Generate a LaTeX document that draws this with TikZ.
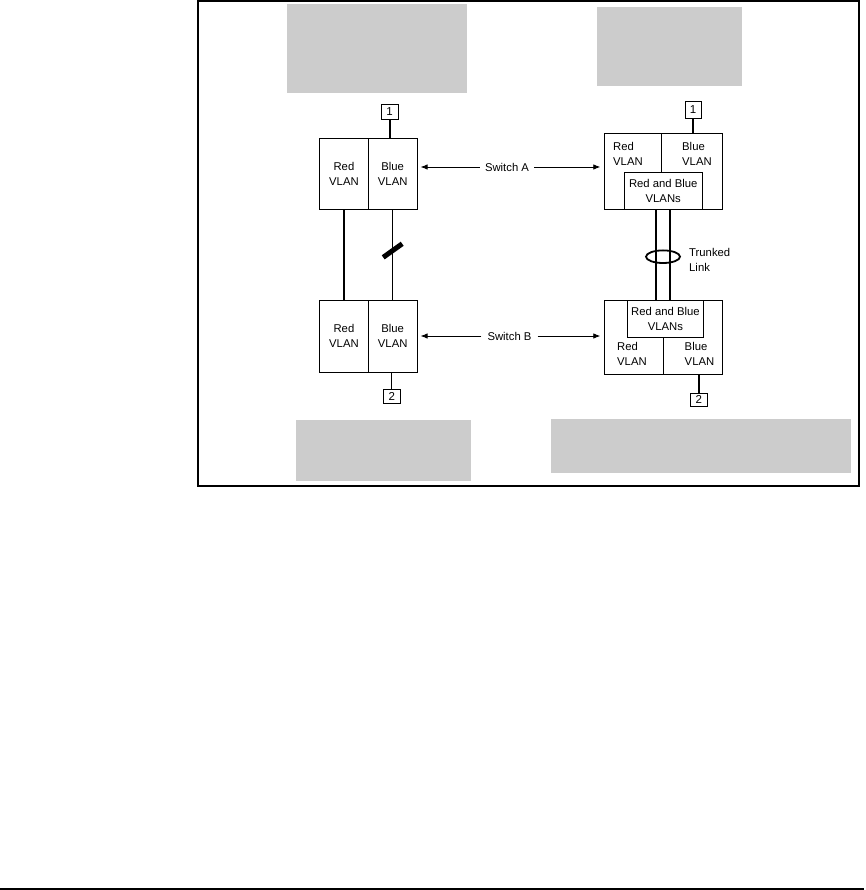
\documentclass[tikz,border=0pt]{standalone}
\usepackage{fontspec}
\setmainfont{Liberation Sans}
\usetikzlibrary{arrows.meta,calc,shapes.geometric}
\definecolor{panel}{HTML}{CCCCCC}
\begin{document}
\begin{tikzpicture}[x=1pt,y=-1pt,
  txt/.style={font=\fontsize{11.3}{15}\selectfont, inner sep=0pt},
  half/.style={draw, line width=0.8pt, inner sep=0pt, anchor=north west, align=center, font=\fontsize{11.3}{15}\selectfont},
  port/.style={draw, line width=0.8pt, inner sep=0pt, minimum width=17pt, minimum height=15pt, font=\fontsize{11.5}{13}\selectfont},
  thin/.style={line width=0.8pt},
  thick2/.style={line width=2pt},
  trunk/.style={line width=1.5pt},
  arr/.style={line width=0.8pt, -{Latex[length=7pt,width=5.5pt]}},
  gray/.style={fill=panel, draw=none}
]
\useasboundingbox (0,0) rectangle (865,890);
% frame and bottom rule
\draw[line width=2pt] (198,1) rectangle (859,486);
\draw[line width=2pt] (0,888.5) -- (864,888.5);
% gray panels
\fill[panel] (287,4) rectangle (467,93);
\fill[panel] (597,7) rectangle (742,86);
\fill[panel] (296,420) rectangle (471,481);
\fill[panel] (551,419) rectangle (851,473);

% ---- left: untagged VLANs ----
\node[half, minimum width=48.5pt, minimum height=71pt] (redA) at (319.3,138.3) {Red\\VLAN};
\node[half, minimum width=49pt, minimum height=71pt] (blueA) at (367.8,138.3) {Blue\\VLAN};
\node[half, minimum width=48.5pt, minimum height=71.7pt] (redB) at (319.3,300) {Red\\VLAN};
\node[half, minimum width=49pt, minimum height=71.7pt] (blueB) at (367.8,300) {Blue\\VLAN};
\node[port] (p1a) at (389.5,111.8) {1};
\node[port, minimum height=14pt] (p2a) at (391.7,396.3) {2};
\draw[thick2] (p1a.south) -- (p1a.south |- blueA.north);
\draw[thick2] (redA.south) -- (redB.north);
\draw[thin] (blueA.south) -- (blueB.north);
\coordinate (blk) at ($(blueA.south)!0.45!(blueB.north)$);
\draw[line width=5pt] ($(blk)+(-9.5,6.8)$) -- ($(blk)+(9.5,-6.8)$);
\draw[thin] (p2a.north |- blueB.south) -- (p2a.north);

% ---- right: tagged trunk ----
\node[draw, line width=0.8pt, inner sep=0pt, anchor=north west, minimum width=117.4pt, minimum height=76pt] (swA2) at (604.3,133.3) {};
\node[half, minimum width=77.7pt, minimum height=37pt] (inA) at (624,172.3) {Red and Blue\\VLANs};
\draw[thin] (661.7,133.3) -- (661.7,172.3);
\node[txt, align=left, anchor=west] (redA2) at (613,153.7) {Red\\VLAN};
\node[txt, align=left, anchor=west] (blueA2) at (682,153.7) {Blue\\VLAN};
\node[port, minimum width=16pt, minimum height=16.6pt] (p1b) at (693,110) {1};
\draw[thick2] (p1b.south) -- (p1b.south |- swA2.north);

\node[draw, line width=0.8pt, inner sep=0pt, anchor=north west, minimum width=117.4pt, minimum height=74.3pt] (swB2) at (604.3,300) {};
\node[half, minimum width=76.6pt, minimum height=37.3pt] (inB) at (626.7,300) {Red and Blue\\VLANs};
\draw[thin] (663.3,337.3) -- (663.3,374.3);
\node[txt, align=left, anchor=west] (redB2) at (617,353.5) {Red\\VLAN};
\node[txt, align=left, anchor=west] (blueB2) at (684.5,353.5) {Blue\\VLAN};
\node[port, minimum height=12.7pt] (p2b) at (698.7,399.7) {2};
\draw[thick2] (p2b.north |- swB2.south) -- (p2b.north);

% trunk
\coordinate (tA1) at (656,209.3);
\coordinate (tA2) at (670,209.3);
\draw[trunk] (tA1) -- (tA1 |- inB.north);
\draw[trunk] (tA2) -- (tA2 |- inB.north);
\node[draw, ellipse, line width=1.8pt, inner sep=0pt, minimum width=34pt, minimum height=12.6pt] (ring) at (663,256.7) {};
\node[txt, align=left, anchor=west] (trk) at (689,259.7) {Trunked\\Link};

% switch labels
\node[txt] (labA) at (507,167) {Switch A};
\node[txt] (labB) at (509.5,336) {Switch B};
\draw[arr, shorten >=3pt] ([xshift=-5pt]labA.west) -- (blueA.east |- labA.west);
\draw[arr, shorten >=4pt] ([xshift=5pt]labA.east) -- (swA2.west |- labA.east);
\draw[arr, shorten >=3pt] ([xshift=-6pt]labB.west) -- (blueB.east |- labB.west);
\draw[arr, shorten >=4pt] ([xshift=6pt]labB.east) -- (swB2.west |- labB.east);
\end{tikzpicture}
\end{document}
